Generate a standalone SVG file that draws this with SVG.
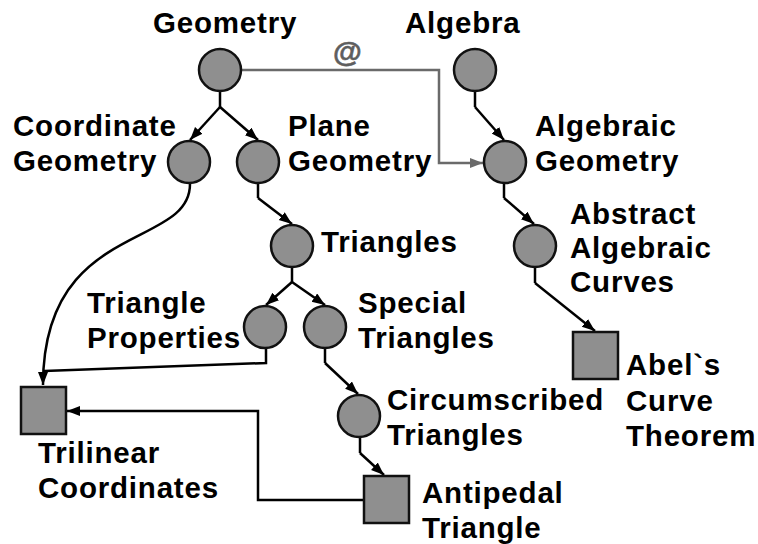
<svg xmlns="http://www.w3.org/2000/svg" width="758" height="544" viewBox="0 0 758 544">
<defs>
<marker id="ah" markerUnits="userSpaceOnUse" markerWidth="14" markerHeight="12" refX="13" refY="5" orient="auto">
<path d="M0,0 L13,5 L0,10 z" fill="#000"/>
</marker>
<marker id="ahg" markerUnits="userSpaceOnUse" markerWidth="14" markerHeight="12" refX="13" refY="5" orient="auto">
<path d="M0,0 L13,5 L0,10 z" fill="#6a6a6a"/>
</marker>
</defs>
<style>
text{font-family:"Liberation Sans",Arial,sans-serif;font-weight:bold;font-size:29.5px;letter-spacing:0.8px;fill:#000}
.n{fill:#8f8f8f;stroke:#111;stroke-width:2.5}
.e{fill:none;stroke:#000;stroke-width:2.5;marker-end:url(#ah)}
.l{fill:none;stroke:#000;stroke-width:2.5}
.g{fill:none;stroke:#6a6a6a;stroke-width:2.5;marker-end:url(#ahg)}
</style>
<g id="connectors">
<path class="l" d="M220,91 L220,107"/>
<path class="e" d="M220,107 L190,140"/>
<path class="e" d="M220,107 L258,140"/>
<path class="l" d="M475,91 L475,107"/>
<path class="e" d="M475,107 L504,140"/>
<path class="g" d="M242,70 L439,70 L439,163 L483,163"/>
<path class="e" d="M190,184 C190,250 43,220 43,385"/>
<path class="l" d="M258,184 L258,198"/>
<path class="e" d="M258,198 L292,224"/>
<path class="l" d="M292,267 L292,282"/>
<path class="e" d="M292,282 L266,305"/>
<path class="e" d="M292,282 L325,305"/>
<path class="l" d="M266,348 L266,363 L44,371"/>
<path class="l" d="M325,348 L325,363"/>
<path class="e" d="M325,363 L358,394"/>
<path class="l" d="M360,437 L360,453"/>
<path class="e" d="M360,453 L384,475"/>
<path class="e" d="M363,500 L258,500 L258,411 L67,411"/>
<path class="l" d="M504,183 L504,198"/>
<path class="e" d="M504,198 L534,224"/>
<path class="l" d="M535,267 L535,283"/>
<path class="e" d="M535,283 L595,331"/>
<text x="333" y="62" style="fill:#5e5e5e;stroke:#5e5e5e;stroke-width:0.6">@</text>
</g>
<g id="geometry"><circle class="n" cx="220" cy="70" r="21"/><text x="153" y="33">Geometry</text></g>
<g id="algebra"><circle class="n" cx="475" cy="70" r="21"/><text x="405" y="33">Algebra</text></g>
<g id="coordinate-geometry"><circle class="n" cx="189" cy="162" r="21"/><text x="13" y="136">Coordinate</text><text x="13" y="171">Geometry</text></g>
<g id="plane-geometry"><circle class="n" cx="258" cy="162" r="21"/><text x="288" y="136">Plane</text><text x="288" y="171">Geometry</text></g>
<g id="algebraic-geometry"><circle class="n" cx="505" cy="162" r="21"/><text x="535" y="136">Algebraic</text><text x="535" y="171">Geometry</text></g>
<g id="triangles"><circle class="n" cx="292" cy="246" r="21"/><text x="321" y="252">Triangles</text></g>
<g id="abstract-algebraic-curves"><circle class="n" cx="535" cy="246" r="21"/><text x="570" y="224">Abstract</text><text x="570" y="258">Algebraic</text><text x="570" y="292">Curves</text></g>
<g id="triangle-properties"><circle class="n" cx="265" cy="327" r="21"/><text x="87" y="313">Triangle</text><text x="87" y="348">Properties</text></g>
<g id="special-triangles"><circle class="n" cx="325" cy="327" r="21"/><text x="358" y="313">Special</text><text x="358" y="348">Triangles</text></g>
<g id="circumscribed-triangles"><circle class="n" cx="359" cy="416" r="21"/><text x="387" y="410">Circumscribed</text><text x="387" y="445">Triangles</text></g>
<g id="abels-curve-theorem"><rect class="n" x="573" y="332" width="45" height="47"/><text x="626" y="375">Abel`s</text><text x="626" y="411">Curve</text><text x="626" y="446">Theorem</text></g>
<g id="antipedal-triangle"><rect class="n" x="364" y="476" width="45" height="47"/><text x="422" y="503">Antipedal</text><text x="422" y="538">Triangle</text></g>
<g id="trilinear-coordinates"><rect class="n" x="21" y="387" width="45" height="47"/><text x="38" y="463">Trilinear</text><text x="38" y="498">Coordinates</text></g>
</svg>
